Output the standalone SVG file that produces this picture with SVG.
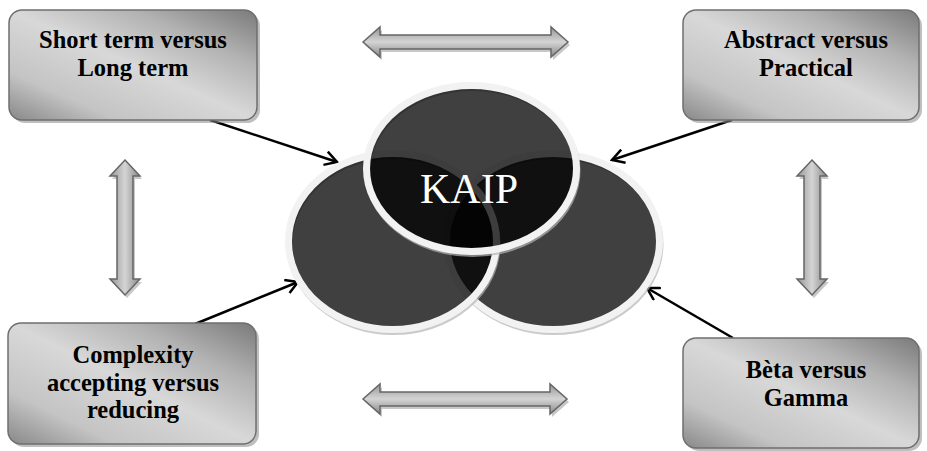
<svg xmlns="http://www.w3.org/2000/svg" width="927" height="451" viewBox="0 0 927 451">
  <defs>
    <linearGradient id="boxFill" x1="0" y1="1" x2="1" y2="0">
      <stop offset="0" stop-color="#888888"/>
      <stop offset="0.22" stop-color="#c4c4c4"/>
      <stop offset="0.5" stop-color="#d8d8d8"/>
      <stop offset="0.75" stop-color="#b2b2b2"/>
      <stop offset="1" stop-color="#7a7a7a"/>
    </linearGradient>
    <linearGradient id="hArrowFill" x1="0" y1="0" x2="0" y2="1">
      <stop offset="0" stop-color="#969696"/>
      <stop offset="0.5" stop-color="#d4d4d4"/>
      <stop offset="1" stop-color="#888888"/>
    </linearGradient>
    <linearGradient id="vArrowFill" x1="0" y1="0" x2="1" y2="0">
      <stop offset="0" stop-color="#969696"/>
      <stop offset="0.5" stop-color="#d4d4d4"/>
      <stop offset="1" stop-color="#888888"/>
    </linearGradient>
    <marker id="openHead" viewBox="0 0 16 16" refX="14" refY="8" markerWidth="16" markerHeight="16" markerUnits="userSpaceOnUse" orient="auto">
      <path d="M2,1 L14,8 L2,15" fill="none" stroke="#000" stroke-width="2.5" stroke-linejoin="miter"/>
    </marker>
  </defs>
  <style>
    .box { fill: url(#boxFill); stroke: #6f6f6f; stroke-width: 1.5; }
    .boxShadow { fill: #8a8a8a; opacity: 0.55; }
    .label { font-family: "Liberation Serif", "Times New Roman", serif; font-weight: bold; font-size: 24.5px; fill: #000; text-anchor: middle; }
    .core { font-family: "Liberation Serif", "Times New Roman", serif; font-size: 42px; fill: #fff; text-anchor: middle; }
    .dbl { stroke: #666666; stroke-width: 1.5; stroke-linejoin: miter; }
    .dblShadow { fill: #b0b0b0; opacity: 0.7; }
    .ringShadow { fill: none; stroke: #b4b4b4; stroke-width: 6; opacity: 0.7; }
    .disc { fill: #000; fill-opacity: 0.75; }
    .ring { fill: none; stroke: #f2f2f2; stroke-width: 7; }
    .link { stroke: #000; stroke-width: 2.5; fill: none; marker-end: url(#openHead); }
  </style>

  <!-- two-way arrows between the corner boxes -->
  <g id="pairs">
    <path class="dblShadow" transform="translate(2,3)" d="M363,42 L380,27 L380,35 L551,35 L551,27 L568,42 L551,57 L551,49 L380,49 L380,57 Z"/>
    <path class="dbl" fill="url(#hArrowFill)" d="M363,42 L380,27 L380,35 L551,35 L551,27 L568,42 L551,57 L551,49 L380,49 L380,57 Z"/>
    <path class="dblShadow" transform="translate(2,3)" d="M363,399 L380,384 L380,392 L550,392 L550,384 L567,399 L550,414 L550,406 L380,406 L380,414 Z"/>
    <path class="dbl" fill="url(#hArrowFill)" d="M363,399 L380,384 L380,392 L550,392 L550,384 L567,399 L550,414 L550,406 L380,406 L380,414 Z"/>
    <path class="dblShadow" transform="translate(2,3)" d="M125,160 L140,176 L133,176 L133,279 L140,279 L125,295 L110,279 L117,279 L117,176 L110,176 Z"/>
    <path class="dbl" fill="url(#vArrowFill)" d="M125,160 L140,176 L133,176 L133,279 L140,279 L125,295 L110,279 L117,279 L117,176 L110,176 Z"/>
    <path class="dblShadow" transform="translate(2,3)" d="M812,160 L827,176 L820,176 L820,279 L827,279 L812,295 L797,279 L804,279 L804,176 L797,176 Z"/>
    <path class="dbl" fill="url(#vArrowFill)" d="M812,160 L827,176 L820,176 L820,279 L827,279 L812,295 L797,279 L804,279 L804,176 L797,176 Z"/>
  </g>

  <!-- connectors from boxes to the KAIP circles -->
  <g id="connectors">
    <line class="link" x1="210" y1="120" x2="337" y2="162"/>
    <line class="link" x1="732" y1="120" x2="612" y2="160"/>
    <line class="link" x1="195" y1="324" x2="298" y2="282"/>
    <line class="link" x1="733" y1="338" x2="647" y2="288"/>
  </g>

  <!-- overlapping circles -->
  <g id="kaip">
    <g id="circle-right">
      <ellipse class="ringShadow" cx="554" cy="244" rx="106.5" ry="88"/>
      <ellipse class="disc" cx="553" cy="241.5" rx="106.5" ry="88"/>
      <ellipse class="ring" cx="553" cy="241.5" rx="106.5" ry="88"/>
    </g>
    <g id="circle-left">
      <ellipse class="ringShadow" cx="393.5" cy="244" rx="104" ry="88"/>
      <ellipse class="disc" cx="392.5" cy="241.5" rx="104" ry="88"/>
      <ellipse class="ring" cx="392.5" cy="241.5" rx="104" ry="88"/>
    </g>
    <g id="circle-top">
      <ellipse class="ringShadow" cx="472.5" cy="171" rx="105" ry="83"/>
      <ellipse class="disc" cx="471.5" cy="168.5" rx="105" ry="83"/>
      <ellipse class="ring" cx="471.5" cy="168.5" rx="105" ry="83"/>
    </g>
    <text class="core" x="469" y="203">KAIP</text>
  </g>

  <g id="box-short-long">
    <rect class="boxShadow" x="12" y="13" width="248" height="110" rx="13"/>
    <rect class="box" x="9" y="10" width="248" height="110" rx="13"/>
    <text class="label" x="133" y="48">Short term versus</text>
    <text class="label" x="133" y="76">Long term</text>
  </g>

  <g id="box-abstract-practical">
    <rect class="boxShadow" x="686" y="13" width="236" height="110" rx="13"/>
    <rect class="box" x="683" y="10" width="236" height="110" rx="13"/>
    <text class="label" x="806" y="48">Abstract versus</text>
    <text class="label" x="806" y="76">Practical</text>
  </g>

  <g id="box-complexity">
    <rect class="boxShadow" x="11" y="326" width="248" height="121" rx="13"/>
    <rect class="box" x="8" y="323" width="248" height="121" rx="13"/>
    <text class="label" x="133" y="363">Complexity</text>
    <text class="label" x="133" y="391">accepting versus</text>
    <text class="label" x="133" y="418">reducing</text>
  </g>

  <g id="box-beta-gamma">
    <rect class="boxShadow" x="686" y="341" width="236" height="110" rx="13"/>
    <rect class="box" x="683" y="338" width="236" height="110" rx="13"/>
    <text class="label" x="806" y="378">Bèta versus</text>
    <text class="label" x="806" y="406">Gamma</text>
  </g>
</svg>
